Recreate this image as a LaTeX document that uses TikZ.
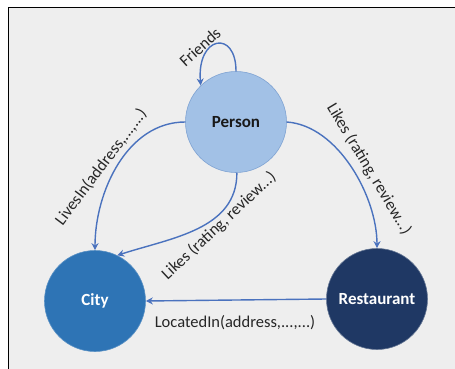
\documentclass[tikz,border=0pt]{standalone}
\usepackage{fontspec}
\setmainfont{Carlito}
\usetikzlibrary{arrows.meta}
\definecolor{bgc}{HTML}{EEEEEE}
\definecolor{personc}{HTML}{A2C1E6}
\definecolor{personb}{HTML}{7FA3D3}
\definecolor{cityc}{HTML}{2E74B5}
\definecolor{restc}{HTML}{1F3864}
\definecolor{edgec}{HTML}{4A72BE}
\definecolor{txtc}{HTML}{262626}
\tikzset{
  entity/.style={circle, minimum size=101pt, inner sep=0pt, font=\fontsize{17}{19}\selectfont\bfseries},
  rel/.style={draw=edgec, line width=1.4pt, -{Stealth[length=7pt,width=7pt]}},
  lbl/.style={text=txtc, font=\fontsize{16.5}{18}\selectfont, inner sep=1pt}
}
\begin{document}
\begin{tikzpicture}[x=1pt,y=-1pt]
\useasboundingbox (0,0) rectangle (455,369);
\fill[white] (0,0) rectangle (455,369);
\fill[bgc] (8.5,7.5) rectangle (455,369);
\draw[black, line width=1.2pt] (8.5,369) -- (8.5,7.5) -- (455,7.5);

\node[entity, fill=personc, draw=personb, line width=0.6pt, text=black!90] (p) at (236,122) {Person};
\node[entity, fill=cityc, draw=cityc!80!white, line width=0.6pt, text=white] (c) at (95,301) {City};
\node[entity, fill=restc, draw=restc!70!white, line width=0.6pt, text=white] (r) at (377,299) {Restaurant};

\draw[rel] (p.90) .. controls +(0,-42) and +(-4,-50) .. (p.134);
\draw[rel] (p.180) to[out=180,in=90,looseness=0.95] (c.90);
\draw[rel] (p.-89) to[out=-90,in=18,looseness=1.0] (c.64);
\draw[rel] (p.0) to[out=-4,in=90,looseness=0.85] (r.90);
\draw[rel] (r.180) -- (c.0);

\node[lbl, rotate=42] (lf) at (200,47) {Friends};
\node[lbl, rotate=53] (ll) at (101,167) {LivesIn(address,...,...)};
\node[lbl, rotate=43] (lk1) at (219,226) {Likes (rating, review...)};
\node[lbl, rotate=-59] (lk2) at (369,169) {Likes (rating, review...)};
\node[lbl] (lc) at (235,323) {LocatedIn(address,...,...)};
\end{tikzpicture}
\end{document}
